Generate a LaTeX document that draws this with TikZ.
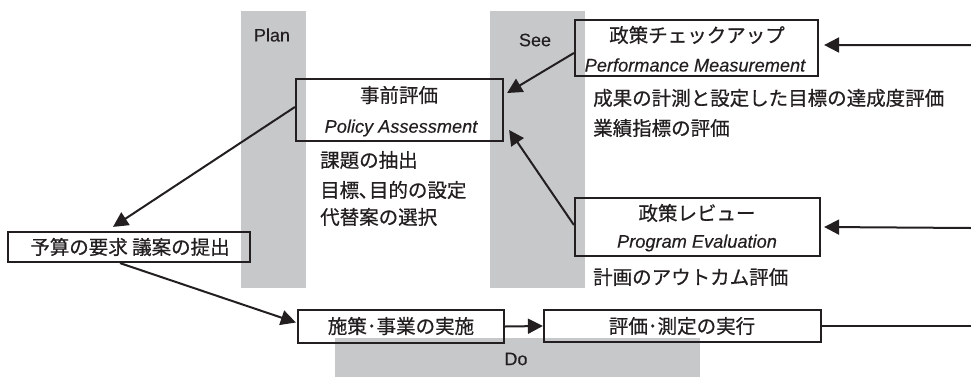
\documentclass[tikz,border=0pt]{standalone}
\usepackage{fontspec}
\setmainfont{Liberation Sans}
\newfontfamily\jp[FakeBold=0.6]{Noto Sans CJK JP}
\newfontfamily\lat[FakeBold=0.3]{Liberation Sans}
\usetikzlibrary{arrows.meta}
\definecolor{band}{HTML}{C7C8CA}
\definecolor{ink}{HTML}{231F20}
\tikzset{
  bandbox/.style={fill=band,draw=none},
  frame/.style={draw=ink,line width=2.2bp,inner sep=0pt},
  jt/.style={font=\jp\fontsize{19.5bp}{20bp}\selectfont,text=ink,inner sep=0pt},
  lt/.style={font=\lat\fontsize{18bp}{20bp}\selectfont,text=ink,inner sep=0pt},
  it/.style={font=\lat\fontsize{18.2bp}{20bp}\selectfont\itshape,text=ink,inner sep=0pt},
  arr/.style={draw=ink,line width=2bp,-{Triangle[length=15bp,width=15bp]}},
  ln/.style={draw=ink,line width=2bp}
}
\begin{document}
\begin{tikzpicture}[x=1bp,y=-1bp]
\useasboundingbox (0,0) rectangle (971,377);
% bands
\fill[bandbox] (241,11) rectangle (306,288);
\fill[bandbox] (490,11) rectangle (585,288);
\fill[bandbox] (335,338) rectangle (700,377);
\node[lt] (plan) at (272,35) {Plan};
\node[lt] (see) at (535,40) {See};
\node[lt] (do) at (516,359) {Do};
% boxes
\node[frame,minimum width=207bp,minimum height=62bp] (pre) at (399.5,110) {};
\node[jt] (preJ) at (399,95) {事前評価};
\node[it] (preE) at (401,128) {Policy Assessment};

\node[frame,minimum width=243bp,minimum height=56bp] (chk) at (696.5,48) {};
\node[jt] (chkJ) at (697,35) {政策チェックアップ};
\node[it] (chkE) at (695,65) {Performance Measurement};

\node[frame,minimum width=245bp,minimum height=58bp] (rev) at (697.5,227) {};
\node[jt] (revJ) at (697,213) {政策レビュー};
\node[it] (revE) at (697,243) {Program Evaluation};

\node[frame,minimum width=242bp,minimum height=30bp] (bud) at (129,247) {};
\node[jt] (budJ) at (130,247) {予算の要求 議案の提出};

\node[frame,minimum width=206bp,minimum height=33bp] (imp) at (401,326.5) {};
\node[jt] (impJ) at (401,326) {施策･事業の実施};

\node[frame,minimum width=277bp,minimum height=32bp] (exe) at (682.5,326) {};
\node[jt] (exeJ) at (682,326) {評価･測定の実行};

% side texts
\node[jt,anchor=west] (t1) at (320,160) {課題の抽出};
\node[jt,anchor=west] (t2) at (320,190) {目標､目的の設定};
\node[jt,anchor=west] (t3) at (320,217) {代替案の選択};
\node[jt,anchor=west] (t4) at (593,98) {成果の計測と設定した目標の達成度評価};
\node[jt,anchor=west] (t5) at (593,128) {業績指標の評価};
\node[jt,anchor=west] (t6) at (593,277) {計画のアウトカム評価};

% connectors
\coordinate (e1) at (971,45);
\coordinate (e2) at (971,228);
\coordinate (e3) at (971,326);
\draw[arr] ([yshift=-5bp]chk.west) -- ([xshift=3bp,yshift=17bp]pre.east);
\draw[arr] ([yshift=2bp]rev.west) -- ([xshift=5bp,yshift=-20bp]pre.east);
\draw[arr] ([yshift=3bp]pre.west) -- ([xshift=-16bp,yshift=4bp]bud.north);
\draw[arr] ([xshift=-9bp]bud.south) -- ([xshift=-1bp,yshift=4bp]imp.west);
\draw[arr] (imp.east) -- (exe.west);
\draw[arr] (e1) -- ([xshift=5bp,yshift=3bp]chk.east);
\draw[arr] (e2) -- ([xshift=3bp]rev.east);
\draw[ln] (exe.east) -- (e3);
\end{tikzpicture}
\end{document}
